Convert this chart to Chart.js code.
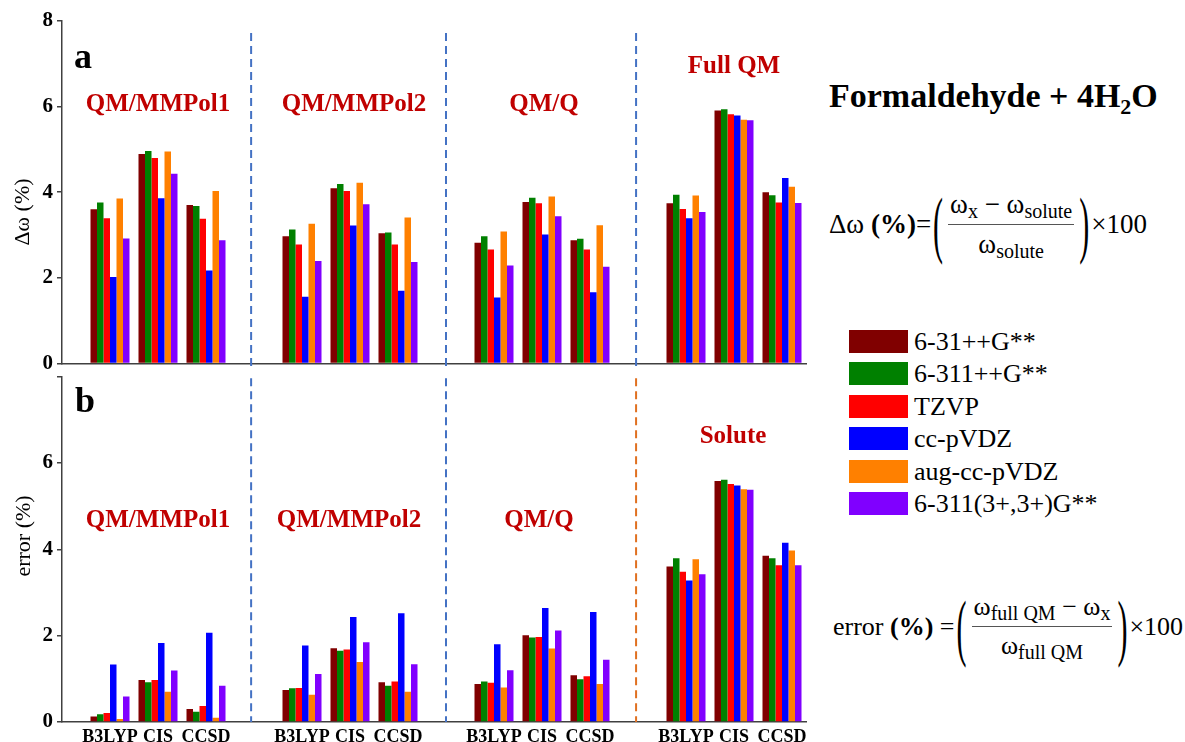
<!DOCTYPE html>
<html>
<head>
<meta charset="utf-8">
<script src="https://cdn.jsdelivr.net/npm/chart.js@4.4.1/dist/chart.umd.min.js"></script>
<style>
  body { margin: 0; width: 1185px; height: 742px; overflow: hidden; background: #fff; position: relative;
         font-family: 'Liberation Serif', 'Times New Roman', serif; color: #000; }
  canvas { position: absolute; left: 0; }
  .abs { position: absolute; white-space: nowrap; }
  .grp { position: absolute; transform: translate(-50%, -50%); color: #C00000; font-weight: bold; font-size: 25px; white-space: nowrap; }
  .ytitle { position: absolute; transform: translate(-50%, -50%) rotate(-90deg); font-size: 22px; white-space: nowrap; }
  .letter { position: absolute; font-weight: bold; font-size: 36px; line-height: 1; }
  .formula { position: absolute; display: flex; align-items: center; font-size: 27px; white-space: nowrap; }
  .paren { display: inline-block; font-size: 30px; transform: scaleY(2.5); margin: 0 2px; font-weight: 100; }
  .frac { display: inline-flex; flex-direction: column; align-items: center; margin: 0 3px; }
  .frac .num { padding: 0 2px 4px 2px; border-bottom: 1.5px solid #555; }
  .frac .den { padding-top: 4px; }
  sub { font-size: 20px; vertical-align: -5px; line-height: 0; }
  #legend .row { position: absolute; left: 849px; display: flex; align-items: center; }
  #legend .sw { width: 59px; height: 23px; margin-right: 6px; }
  #legend .lb { font-size: 26px; line-height: 23px; }
</style>
</head>
<body>
<canvas id="chartA" width="820" height="380" style="top:0"></canvas>
<canvas id="chartB" width="820" height="400" style="top:360px"></canvas>

<div class="letter" style="left:74px; top:38px;">a</div>
<div class="letter" style="left:75px; top:382px;">b</div>
<div class="ytitle" style="left:22px; top:212px;">Δω (%)</div>
<div class="ytitle" style="left:23px; top:536px;">error (%)</div>

<div class="abs" style="left:829px; top:77px; font-size:34px; font-weight:bold;">Formaldehyde + 4H<sub style="font-size:22px; vertical-align:-7px;">2</sub>O</div>

<div class="formula" style="left:829px; top:190px; height:68px;">
  <span>Δω&nbsp;<b>(%)</b>=</span>
  <span class="paren">(</span>
  <span class="frac"><span class="num">ω<sub>x</sub> − ω<sub>solute</sub></span><span class="den">ω<sub>solute</sub></span></span>
  <span class="paren">)</span>
  <span>×100</span>
</div>

<div class="formula" style="left:833px; top:590px; height:73px; font-size:26px;">
  <span>error <b>(%)</b> =</span>
  <span class="paren">(</span>
  <span class="frac"><span class="num">ω<sub>full QM</sub> − ω<sub>x</sub></span><span class="den">ω<sub>full QM</sub></span></span>
  <span class="paren">)</span>
  <span>×100</span>
</div>

<div id="legend"></div>
<div id="titles"></div>

<script>
// categories
const methods = ['B3LYP', 'CIS', 'CCSD'];
const groupsA = ['QM/MMPol1', 'QM/MMPol2', 'QM/Q', 'Full QM'];
const groupsB = ['QM/MMPol1', 'QM/MMPol2', 'QM/Q', 'Solute'];
const basisSets = ['6-31++G**', '6-311++G**', 'TZVP', 'cc-pVDZ', 'aug-cc-pVDZ', '6-311(3+,3+)G**'];
const basisColors = ['#800000', '#008000', '#FF0000', '#0000FF', '#FF8000', '#8000FF'];

// panel a: delta omega (%) -- order per group: B3LYP, CIS, CCSD
const dw631 =    [3.60, 4.89, 3.70,  2.97, 4.09, 3.04,  2.82, 3.77, 2.88,  3.74, 5.91, 4.00];
const dw6311 =   [3.76, 4.96, 3.68,  3.13, 4.19, 3.06,  2.97, 3.87, 2.91,  3.94, 5.94, 3.93];
const dwTzvp =   [3.39, 4.80, 3.38,  2.78, 4.03, 2.78,  2.66, 3.74, 2.66,  3.61, 5.82, 3.76];
const dwCcpvdz = [2.02, 3.86, 2.17,  1.56, 3.22, 1.70,  1.54, 3.01, 1.66,  3.39, 5.79, 4.33];
const dwAug =    [3.85, 4.95, 4.03,  3.26, 4.22, 3.41,  3.08, 3.90, 3.23,  3.92, 5.69, 4.13];
const dw3p =     [2.92, 4.43, 2.88,  2.39, 3.72, 2.37,  2.29, 3.44, 2.26,  3.54, 5.68, 3.75];

// panel b: error (%)
const err631 =    [0.13, 0.97, 0.30,  0.74, 1.71, 0.92,  0.88, 2.01, 1.08,  3.60, 5.58, 3.85];
const err6311 =   [0.18, 0.92, 0.24,  0.78, 1.65, 0.84,  0.94, 1.96, 0.99,  3.79, 5.61, 3.79];
const errTzvp =   [0.21, 0.97, 0.37,  0.79, 1.68, 0.94,  0.91, 1.97, 1.06,  3.48, 5.51, 3.63];
const errCcpvdz = [1.33, 1.83, 2.07,  1.77, 2.43, 2.52,  1.80, 2.64, 2.55,  3.28, 5.48, 4.15];
const errAug =    [0.07, 0.70, 0.10,  0.63, 1.39, 0.70,  0.80, 1.70, 0.88,  3.77, 5.39, 3.97];
const err3p =     [0.59, 1.19, 0.84,  1.11, 1.85, 1.34,  1.20, 2.12, 1.44,  3.42, 5.38, 3.63];

const yTicks = [0, 2, 4, 6, 8];

const seriesA = [dw631, dw6311, dwTzvp, dwCcpvdz, dwAug, dw3p];
const seriesB = [err631, err6311, errTzvp, errCcpvdz, errAug, err3p];

Chart.defaults.font.family = "'Liberation Serif', 'Times New Roman', serif";
Chart.defaults.color = '#000';

// x slot of each bar group: groups separated by one empty slot
const slotOf = i => 1 + Math.floor(i / 3) * 4 + (i % 3);
const tickSlots = groupsA.flatMap((g, gi) => methods.map((m, mi) => 1 + gi * 4 + mi));
const axisColor = '#404040';

// dashed separators between the groups
const sepLines = {
    id: 'sepLines',
    afterDatasetsDraw(chart, args, opts) {
        const { ctx, scales: { x, y } } = chart;
        ctx.save();
        ctx.lineWidth = 2;
        ctx.setLineDash([8, 5]);
        opts.positions.forEach((p, i) => {
            const px = x.getPixelForValue(p);
            ctx.strokeStyle = opts.colors[i];
            ctx.beginPath();
            ctx.moveTo(px, y.getPixelForValue(opts.top));
            ctx.lineTo(px, y.getPixelForValue(0) + opts.below);
            ctx.stroke();
        });
        ctx.restore();
    }
};

function makeChart(id, series, showLabels, hideTop, sepOpts, pad, xHeight) {
    const ctx = document.getElementById(id).getContext('2d');
    return new Chart(ctx, {
        type: 'bar',
        data: {
            datasets: series.map((vals, k) => ({
                label: basisSets[k],
                data: vals.map((v, i) => ({ x: slotOf(i), y: v })),
                backgroundColor: basisColors[k],
                borderWidth: 0,
                barPercentage: 1.0,
                categoryPercentage: 0.8125
            }))
        },
        options: {
            responsive: false,
            animation: false,
            devicePixelRatio: 1,
            layout: { padding: pad },
            scales: {
                x: {
                    type: 'linear',
                    min: 0,
                    max: 15.5,
                    offset: false,
                    grid: { display: false, drawTicks: false, offset: false },
                    border: { color: axisColor, width: 1.5 },
                    afterBuildTicks: s => { s.ticks = tickSlots.map(v => ({ value: v })); },
                    ticks: {
                        display: showLabels,
                        autoSkip: false,
                        maxRotation: 0,
                        padding: 5,
                        font: { size: 18, weight: 'bold' },
                        callback: v => methods[(v - 1) % 4] || ''
                    },
                    afterFit: s => { s.height = xHeight; }
                },
                y: {
                    min: 0,
                    max: 8,
                    afterBuildTicks: s => { s.ticks = yTicks.map(v => ({ value: v })); },
                    grid: { drawOnChartArea: false, drawTicks: true, tickLength: 5, color: axisColor, lineWidth: 1.5 },
                    border: { color: axisColor, width: 1.5 },
                    ticks: {
                        padding: 4,
                        font: { size: 21, weight: 'bold' },
                        callback: v => (hideTop && v === 8) ? '' : v
                    },
                    afterFit: s => { s.width = 62; }
                }
            },
            plugins: {
                legend: { display: false },
                tooltip: { enabled: false },
                sepLines: sepOpts
            }
        },
        plugins: [sepLines]
    });
}

makeChart('chartA', seriesA, false, false,
    { positions: [3.94, 8, 11.96], colors: ['#4472C4', '#4472C4', '#4472C4'], top: 7.72, below: 3 },
    { top: 21, right: 14, left: 0, bottom: 0 }, 9);
makeChart('chartB', seriesB, true, true,
    { positions: [3.94, 8, 11.96], colors: ['#4472C4', '#4472C4', '#E07020'], top: 7.96, below: 0 },
    { top: 11, right: 14, left: 0, bottom: 0 }, 38);

// legend
const legend = document.getElementById('legend');
basisSets.forEach((name, k) => {
    const row = document.createElement('div');
    row.className = 'row';
    row.style.top = (330 + k * 32.4) + 'px';
    row.innerHTML = '<div class="sw" style="background:' + basisColors[k] + '"></div><div class="lb">' + name + '</div>';
    legend.appendChild(row);
});

// group titles
const titles = document.getElementById('titles');
const titlePosA = [[158, 103], [354, 103], [544, 103], [734, 65]];
const titlePosB = [[158, 519], [349, 519], [539, 519], [733, 435]];
function addTitles(names, pos) {
    names.forEach((n, i) => {
        const d = document.createElement('div');
        d.className = 'grp';
        d.style.left = pos[i][0] + 'px';
        d.style.top = pos[i][1] + 'px';
        d.textContent = n;
        titles.appendChild(d);
    });
}
addTitles(groupsA, titlePosA);
addTitles(groupsB, titlePosB);
</script>
</body>
</html>
